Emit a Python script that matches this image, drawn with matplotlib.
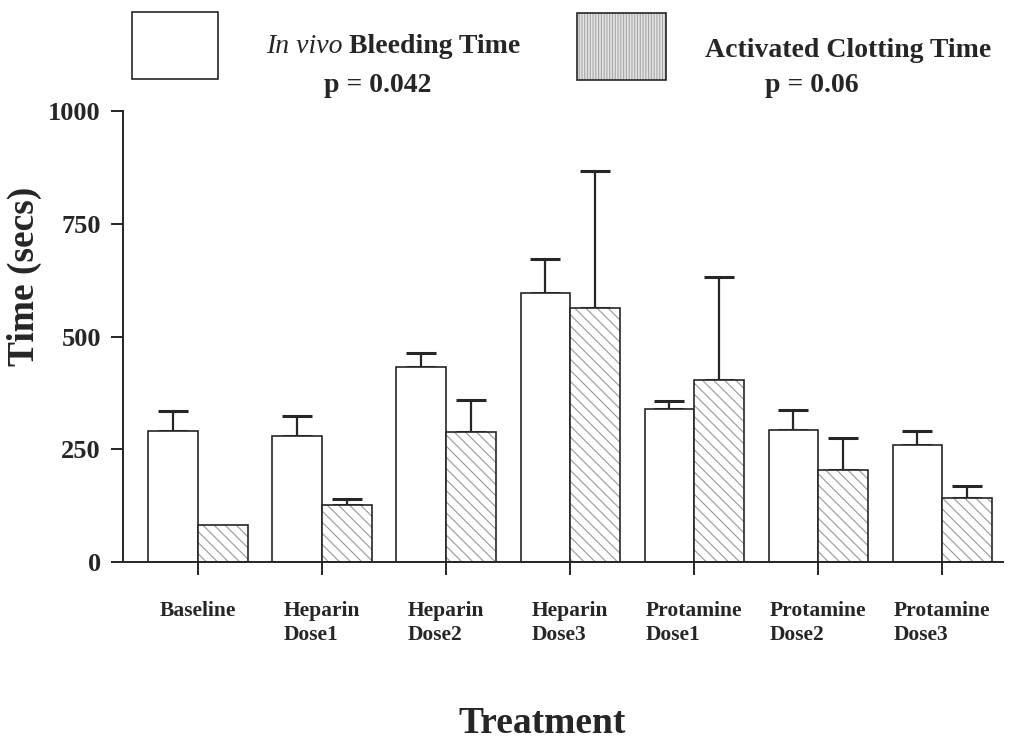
import numpy as np
import matplotlib.pyplot as plt
from matplotlib.patches import Rectangle

plt.rcParams['font.family'] = ['Liberation Serif', 'DejaVu Serif']
plt.rcParams['hatch.linewidth'] = 0.8

# mean times (secs) and upper SEM per treatment step
categories = ['Baseline', 'Heparin\nDose1', 'Heparin\nDose2', 'Heparin\nDose3',
              'Protamine\nDose1', 'Protamine\nDose2', 'Protamine\nDose3']
bleeding = [290, 279, 432, 597, 339, 293, 259]
bleeding_err = [45, 45, 32, 75, 18, 44, 31]
clotting = [82, 126, 289, 564, 404, 203, 141]
clotting_err = [0, 14, 71, 304, 227, 73, 27]

ink = '#262626'
hatch_grey = '#999999'
width = 0.4
x = np.arange(len(categories))

fig = plt.figure(figsize=(10.11, 7.39), dpi=100)
ax = fig.add_axes([0.1217, 0.2395, 0.8703, 0.6103])

# bleeding time: plain white bars
ax.bar(x - width, bleeding, width, align='edge', facecolor='white',
       edgecolor=ink, linewidth=1.2, zorder=2)
# clotting time: grey diagonal hatch, outline drawn on top in black
ax.bar(x, clotting, width, align='edge', facecolor='white',
       edgecolor=hatch_grey, linewidth=0, hatch='\\\\\\', zorder=2)
ax.bar(x, clotting, width, align='edge', facecolor='none',
       edgecolor=ink, linewidth=1.2, zorder=3)

# one-sided error bars (upper only)
def upper_err(xpos, vals, errs):
    vals = np.asarray(vals, float)
    errs = np.asarray(errs, float)
    keep = errs > 0
    ax.errorbar(xpos[keep], vals[keep], yerr=[np.zeros(keep.sum()), errs[keep]],
                fmt='none', ecolor=ink, elinewidth=1.6, capsize=11,
                capthick=2.2, zorder=1)

upper_err(x - width / 2, bleeding, bleeding_err)
upper_err(x + width / 2, clotting, clotting_err)

ax.set_xlim(-0.605, 6.49)
ax.set_ylim(0, 1000)
ax.set_yticks([0, 250, 500, 750, 1000])
ax.set_xticks(x)
ax.set_xticklabels(categories, fontsize=15.5, fontweight='bold', color=ink,
                   multialignment='left', linespacing=1.25)
for lab in ax.get_yticklabels():
    lab.set_fontsize(19)
    lab.set_fontweight('bold')
    lab.set_color(ink)

for side in ['top', 'right']:
    ax.spines[side].set_visible(False)
for side in ['left', 'bottom']:
    ax.spines[side].set_linewidth(1.4)
    ax.spines[side].set_color(ink)
ax.tick_params(axis='y', direction='out', length=9, width=1.4, pad=7, colors=ink)
ax.tick_params(axis='x', direction='out', length=9, width=1.4, pad=19, colors=ink)

fig.text(0.0237, 0.6265, 'Time (secs)', rotation=90, ha='center', va='center',
         fontsize=27, fontweight='bold', color=ink)
fig.text(0.536, 0.0081, 'Treatment', ha='center', va='baseline',
         fontsize=27, fontweight='bold', color=ink)

# legend boxes and captions along the top
fig.add_artist(Rectangle((0.1306, 0.8931), 0.0851, 0.0907, transform=fig.transFigure,
                         facecolor='white', edgecolor=ink, linewidth=1.2))
fig.add_artist(Rectangle((0.5707, 0.8917), 0.088, 0.0907, transform=fig.transFigure,
                         facecolor='#e4e4e4', edgecolor='#a6a6a6', linewidth=0,
                         hatch='||||||'))
fig.add_artist(Rectangle((0.5707, 0.8917), 0.088, 0.0907, transform=fig.transFigure,
                         facecolor='none', edgecolor=ink, linewidth=1.2))

invivo = fig.text(266 / 1011, 0.9283, 'In vivo', ha='left', va='baseline',
                  fontsize=20, fontstyle='italic', color=ink)
ax.annotate('Bleeding Time', xy=(1, 0), xycoords=invivo, xytext=(4.5, 0),
            textcoords='offset points', ha='left', va='bottom',
            fontsize=20, fontweight='bold', color=ink, annotation_clip=False)
fig.text(377.5 / 1011, 0.8755, 'p = 0.042', ha='center', va='baseline',
         fontsize=20, fontweight='bold', color=ink)
fig.text(848 / 1011, 0.9229, 'Activated Clotting Time', ha='center', va='baseline',
         fontsize=20, fontweight='bold', color=ink)
fig.text(812 / 1011, 0.8755, 'p = 0.06', ha='center', va='baseline',
         fontsize=20, fontweight='bold', color=ink)

fig.savefig('out.png', dpi=100)
